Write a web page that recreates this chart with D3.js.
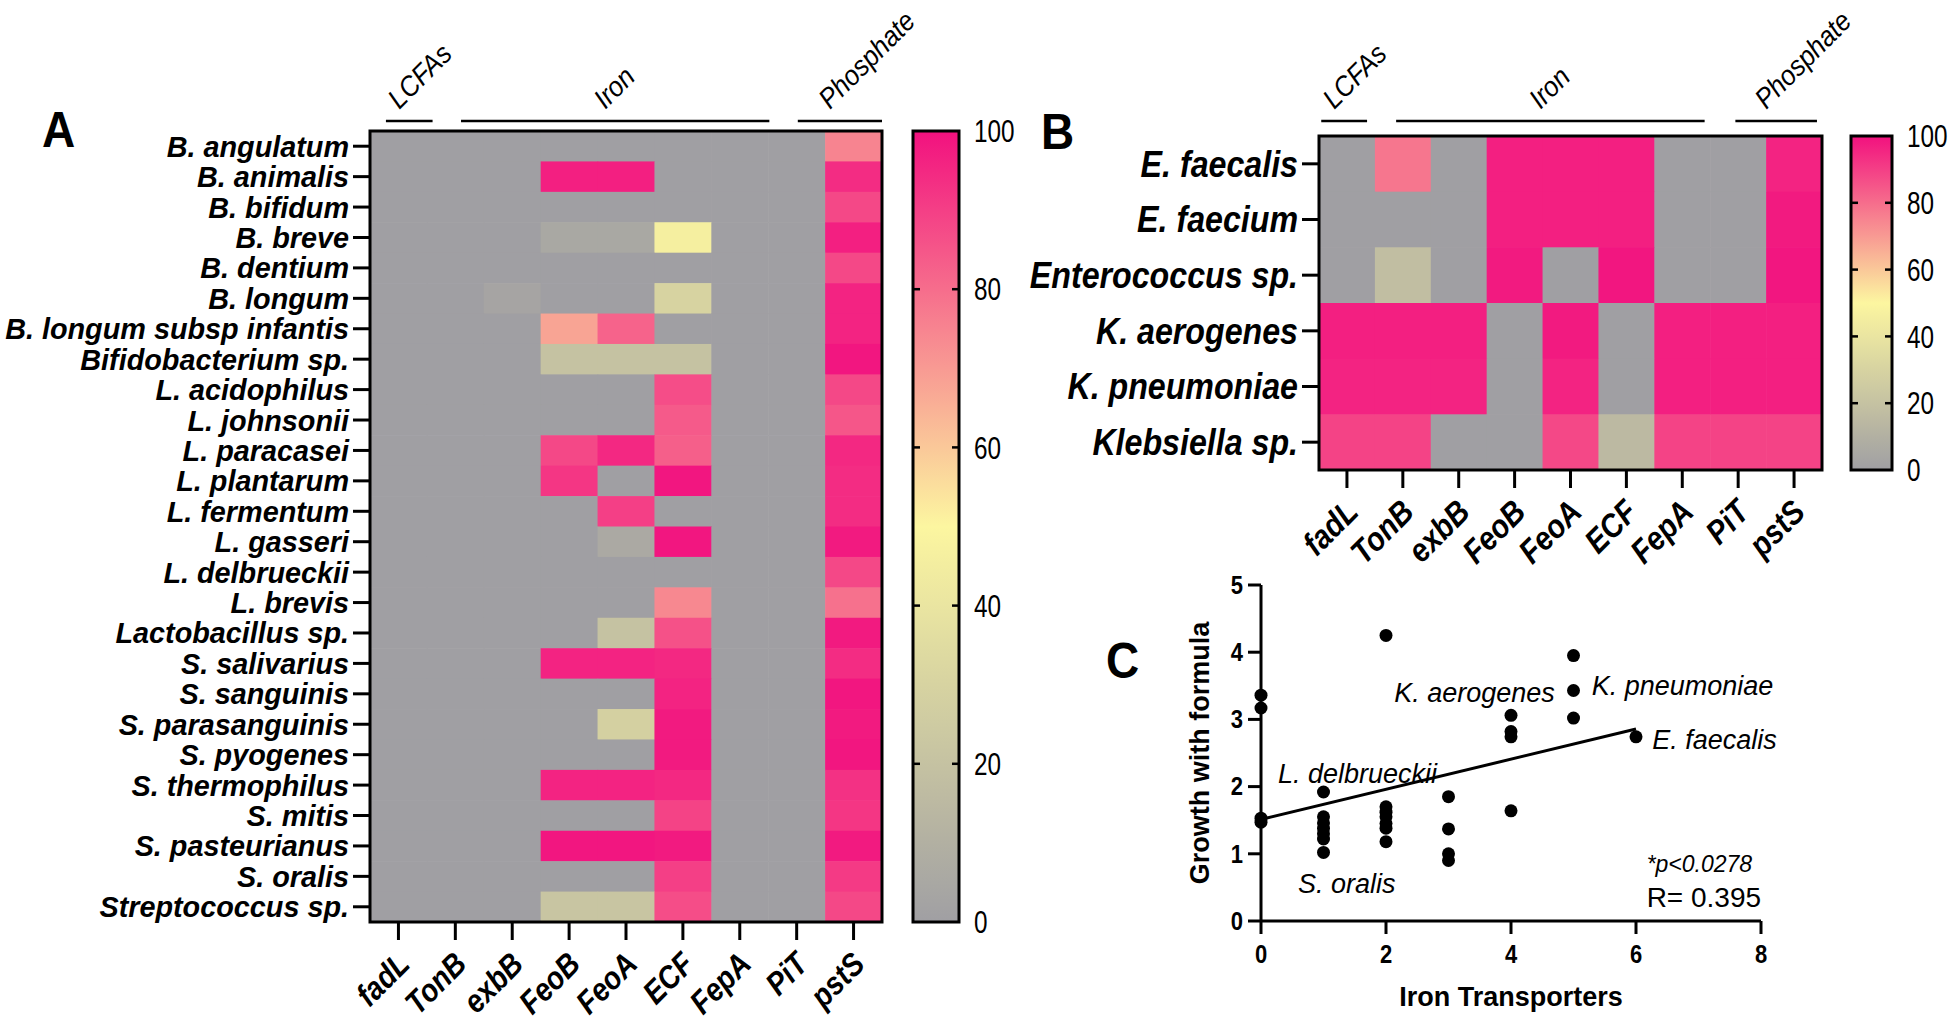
<!DOCTYPE html>
<html>
<head>
<meta charset="utf-8">
<script src="https://cdn.jsdelivr.net/npm/d3@7"></script>
<style>
    body { margin: 0; background: #ffffff; }
    svg text { font-family: "Liberation Sans", Arial, Helvetica, sans-serif; fill: #000; }
</style>
</head>
<body>
<svg id="fig" width="1952" height="1027"></svg>
<script>
// ---- data ----
const genes = ['fadL', 'TonB', 'exbB', 'FeoB', 'FeoA', 'ECF', 'FepA', 'PiT', 'pstS'];
const groupNames = ['LCFAs', 'Iron', 'Phosphate'];
const groupGenes = [['fadL'], ['TonB', 'exbB', 'FeoB', 'FeoA', 'ECF', 'FepA'], ['PiT', 'pstS']];

const speciesA = ['B. angulatum', 'B. animalis', 'B. bifidum', 'B. breve', 'B. dentium', 'B. longum',
    'B. longum subsp infantis', 'Bifidobacterium sp.', 'L. acidophilus', 'L. johnsonii', 'L. paracasei',
    'L. plantarum', 'L. fermentum', 'L. gasseri', 'L. delbrueckii', 'L. brevis', 'Lactobacillus sp.',
    'S. salivarius', 'S. sanguinis', 'S. parasanguinis', 'S. pyogenes', 'S. thermophilus', 'S. mitis',
    'S. pasteurianus', 'S. oralis', 'Streptococcus sp.'];
// percent of strains carrying each gene (fadL .. pstS)
const valuesA = [
    [0, 0, 0, 0, 0, 0, 0, 0, 75],
    [0, 0, 0, 97, 97, 0, 0, 0, 94],
    [0, 0, 0, 0, 0, 0, 0, 0, 88],
    [0, 0, 0, 5, 5, 46, 0, 0, 97],
    [0, 0, 0, 0, 0, 0, 0, 0, 88],
    [0, 0, 3, 0, 0, 30, 0, 0, 96],
    [0, 0, 0, 68, 82, 0, 0, 0, 96],
    [0, 0, 0, 20, 20, 20, 0, 0, 99],
    [0, 0, 0, 0, 0, 87, 0, 0, 88],
    [0, 0, 0, 0, 0, 84, 0, 0, 85],
    [0, 0, 0, 88, 95, 83, 0, 0, 95],
    [0, 0, 0, 92, 0, 99, 0, 0, 94],
    [0, 0, 0, 0, 90, 0, 0, 0, 94],
    [0, 0, 0, 0, 6, 99, 0, 0, 98],
    [0, 0, 0, 0, 0, 0, 0, 0, 88],
    [0, 0, 0, 0, 0, 74, 0, 0, 79],
    [0, 0, 0, 0, 20, 86, 0, 0, 98],
    [0, 0, 0, 96, 96, 95, 0, 0, 94],
    [0, 0, 0, 0, 0, 96, 0, 0, 99],
    [0, 0, 0, 0, 28, 98, 0, 0, 98],
    [0, 0, 0, 0, 0, 98, 0, 0, 99],
    [0, 0, 0, 96, 96, 95, 0, 0, 93],
    [0, 0, 0, 0, 0, 89, 0, 0, 92],
    [0, 0, 0, 99, 99, 98, 0, 0, 98],
    [0, 0, 0, 0, 0, 90, 0, 0, 91],
    [0, 0, 0, 22, 22, 87, 0, 0, 88]
];

const speciesB = ['E. faecalis', 'E. faecium', 'Enterococcus sp.', 'K. aerogenes', 'K. pneumoniae', 'Klebsiella sp.'];
const valuesB = [
    [0, 78, 0, 97, 97, 97, 0, 0, 96],
    [0, 0, 0, 97, 97, 97, 0, 0, 98],
    [0, 18, 0, 98, 0, 99, 0, 0, 99],
    [97, 97, 97, 0, 98, 0, 97, 97, 97],
    [96, 96, 96, 0, 96, 0, 97, 97, 97],
    [89, 89, 0, 0, 88, 15, 89, 89, 89]
];

const colorDomain = [0, 50, 100];
const colorRange = ['#a09fa3', '#fcf6a0', '#f2117f'];
const legendTicks = [0, 20, 40, 60, 80, 100];

// panel C: iron transporter count vs growth with formula
const ironCount = [0, 0, 0, 0, 1, 1, 1, 1, 1, 1, 1, 2, 2, 2, 2, 2, 2, 2, 3, 3, 3, 3, 4, 4, 4, 4, 5, 5, 5, 6];
const growth = [3.36, 3.17, 1.53, 1.47, 1.92, 1.55, 1.46, 1.38, 1.30, 1.22, 1.02,
    4.25, 1.70, 1.62, 1.55, 1.45, 1.38, 1.18, 1.85, 1.37, 1.00, 0.90,
    3.06, 2.82, 2.74, 1.64, 3.95, 3.43, 3.02, 2.74];
const xTicksC = [0, 2, 4, 6, 8];
const yTicksC = [0, 1, 2, 3, 4, 5];
const callouts = ['K. aerogenes', 'K. pneumoniae', 'E. faecalis', 'L. delbrueckii', 'S. oralis'];
const pText = '*p<0.0278';
const rText = 'R= 0.395';

// ---- drawing ----
const svg = d3.select('#fig');
const color = d3.scaleLinear().domain(colorDomain).range(colorRange).interpolate(d3.interpolateRgb);

function txt(g, s, x, y, o) {
    let tr = `translate(${x},${y})`;
    if (o.rot) tr += ` rotate(${o.rot})`;
    if (o.sx) tr += ` scale(${o.sx},1)`;
    return g.append('text')
        .attr('transform', tr)
        .attr('font-size', o.size)
        .attr('font-weight', o.bold ? 'bold' : 'normal')
        .attr('font-style', o.italic ? 'italic' : 'normal')
        .attr('text-anchor', o.anchor || 'start')
        .attr('dy', o.dy || 0)
        .text(s);
}

function heatmap(cfg) {
    const g = svg.append('g');
    const x = d3.scaleBand().domain(genes).range([cfg.left, cfg.right]);
    const y = d3.scaleBand().domain(cfg.species).range([cfg.top, cfg.bottom]);

    cfg.values.forEach((row, i) => {
        g.selectAll(null)
            .data(row)
            .join('rect')
            .attr('x', (d, j) => x(genes[j]))
            .attr('y', y(cfg.species[i]))
            .attr('width', x.bandwidth() + 0.6)
            .attr('height', y.bandwidth() + 0.6)
            .attr('fill', d => color(d));
    });

    g.append('rect')
        .attr('x', cfg.left).attr('y', cfg.top)
        .attr('width', cfg.right - cfg.left).attr('height', cfg.bottom - cfg.top)
        .attr('fill', 'none').attr('stroke', '#000').attr('stroke-width', 3);

    // row ticks + labels
    cfg.species.forEach(s => {
        let cy = y(s) + y.bandwidth() / 2;
        g.append('line').attr('x1', cfg.left - 17).attr('x2', cfg.left).attr('y1', cy).attr('y2', cy)
            .attr('stroke', '#000').attr('stroke-width', 3);
        txt(g, s, cfg.left - 21, cy, {size: cfg.rowSize, bold: true, italic: true, anchor: 'end', dy: '0.35em', sx: cfg.sx});
    });

    // column ticks + labels
    genes.forEach(gn => {
        let cx = x(gn) + x.bandwidth() / 2;
        g.append('line').attr('x1', cx).attr('x2', cx).attr('y1', cfg.bottom).attr('y2', cfg.bottom + 18)
            .attr('stroke', '#000').attr('stroke-width', 3);
        txt(g, gn, cx + 13, cfg.bottom + 44, {size: cfg.colSize, bold: true, italic: true, anchor: 'end', rot: -45, sx: 0.88});
    });

    // group brackets on top
    groupNames.forEach((name, k) => {
        let gg = groupGenes[k];
        let x0 = x(gg[0]) + cfg.inset[k][0] * x.bandwidth();
        let x1 = x(gg[gg.length - 1]) + x.bandwidth() + cfg.inset[k][1] * x.bandwidth();
        g.append('line').attr('x1', x0).attr('x2', x1).attr('y1', 121).attr('y2', 121)
            .attr('stroke', '#000').attr('stroke-width', 2.5);
        txt(g, name, (x0 + x1) / 2 - 10, 110, {size: 28, italic: true, rot: -45, sx: 0.92});
    });

    // colour bar
    const cb = cfg.bar;
    const gradId = 'grad' + cfg.id;
    const grad = svg.append('defs').append('linearGradient').attr('id', gradId)
        .attr('x1', 0).attr('y1', 1).attr('x2', 0).attr('y2', 0);
    d3.range(0, 101, 5).forEach(v => {
        grad.append('stop').attr('offset', v + '%').attr('stop-color', color(v));
    });
    const ys = d3.scaleLinear().domain([0, 100]).range([cfg.bottom, cfg.top]);
    g.append('rect').attr('x', cb[0]).attr('y', cfg.top).attr('width', cb[1] - cb[0]).attr('height', cfg.bottom - cfg.top)
        .attr('fill', `url(#${gradId})`).attr('stroke', '#000').attr('stroke-width', 3);
    legendTicks.forEach(v => {
        if (v > 0 && v < 100) {
            g.append('line').attr('x1', cb[0]).attr('x2', cb[0] + 7).attr('y1', ys(v)).attr('y2', ys(v))
                .attr('stroke', '#000').attr('stroke-width', 2.5);
            g.append('line').attr('x1', cb[1] - 7).attr('x2', cb[1]).attr('y1', ys(v)).attr('y2', ys(v))
                .attr('stroke', '#000').attr('stroke-width', 2.5);
        }
        txt(g, v, cb[1] + 15, ys(v), {size: 32, dy: '0.35em', sx: 0.76});
    });

    txt(g, cfg.id, cfg.letter[0], cfg.letter[1], {size: 50, bold: true, sx: 0.92});
}

heatmap({
    id: 'A', species: speciesA, values: valuesA,
    left: 370, right: 882, top: 131, bottom: 922,
    bar: [913, 959], letter: [42, 147],
    rowSize: 30, colSize: 32, sx: 0.96,
    inset: [[0.28, 0.1], [0.6, 0.02], [0.52, 0]]
});
heatmap({
    id: 'B', species: speciesB, values: valuesB,
    left: 1319, right: 1822, top: 136, bottom: 470,
    bar: [1851, 1892], letter: [1041, 149],
    rowSize: 37, colSize: 33, sx: 0.87,
    inset: [[0.04, -0.14], [0.38, -0.1], [0.45, -0.09]]
});

// ---- panel C scatter ----
const gc = svg.append('g');
const xc = d3.scaleLinear().domain([0, 8]).range([1261, 1761]);
const yc = d3.scaleLinear().domain([0, 5]).range([921, 585]);

gc.append('line').attr('x1', xc(0)).attr('x2', xc(8)).attr('y1', yc(0)).attr('y2', yc(0))
    .attr('stroke', '#000').attr('stroke-width', 3);
gc.append('line').attr('x1', xc(0)).attr('x2', xc(0)).attr('y1', yc(0)).attr('y2', yc(5))
    .attr('stroke', '#000').attr('stroke-width', 3);
xTicksC.forEach(v => {
    gc.append('line').attr('x1', xc(v)).attr('x2', xc(v)).attr('y1', yc(0)).attr('y2', yc(0) + 13)
        .attr('stroke', '#000').attr('stroke-width', 3);
    txt(gc, v, xc(v), yc(0) + 42, {size: 25, bold: true, anchor: 'middle', sx: 0.88});
});
yTicksC.forEach(v => {
    gc.append('line').attr('x1', xc(0) - 13).attr('x2', xc(0)).attr('y1', yc(v)).attr('y2', yc(v))
        .attr('stroke', '#000').attr('stroke-width', 3);
    txt(gc, v, xc(0) - 18, yc(v), {size: 25, bold: true, anchor: 'end', dy: '0.35em', sx: 0.88});
});

// least squares fit line from the points
const mx = d3.mean(ironCount), my = d3.mean(growth);
const sxy = d3.sum(ironCount, (v, i) => (v - mx) * (growth[i] - my));
const sxx = d3.sum(ironCount, v => (v - mx) * (v - mx));
const slope = sxy / sxx, icpt = my - slope * mx;
gc.append('line')
    .attr('x1', xc(0)).attr('y1', yc(icpt))
    .attr('x2', xc(d3.max(ironCount))).attr('y2', yc(icpt + slope * d3.max(ironCount)))
    .attr('stroke', '#000').attr('stroke-width', 3);

gc.selectAll('circle')
    .data(growth)
    .join('circle')
    .attr('cx', (d, i) => xc(ironCount[i]))
    .attr('cy', d => yc(d))
    .attr('r', 6.5)
    .attr('fill', '#000');

// callout placement (data units: start x, centre y)
const calloutAt = [[2.13, 3.40], [5.29, 3.50], [6.26, 2.70], [0.27, 2.2], [0.59, 0.56]];
callouts.forEach((s, i) => {
    txt(gc, s, xc(calloutAt[i][0]), yc(calloutAt[i][1]), {size: 27, italic: true, dy: '0.35em'});
});
txt(gc, pText, xc(6.17), yc(0.85), {size: 23, italic: true, dy: '0.35em'});
txt(gc, rText, xc(6.17), yc(0.36), {size: 28, dy: '0.35em'});

txt(gc, 'Growth with formula', xc(0) - 52, (yc(0) + yc(5)) / 2, {size: 27, bold: true, anchor: 'middle', rot: -90});
txt(gc, 'Iron Transporters', xc(4), yc(0) + 85, {size: 27, bold: true, anchor: 'middle'});
txt(gc, 'C', 1106, 678, {size: 50, bold: true, sx: 0.92});
</script>
</body>
</html>
